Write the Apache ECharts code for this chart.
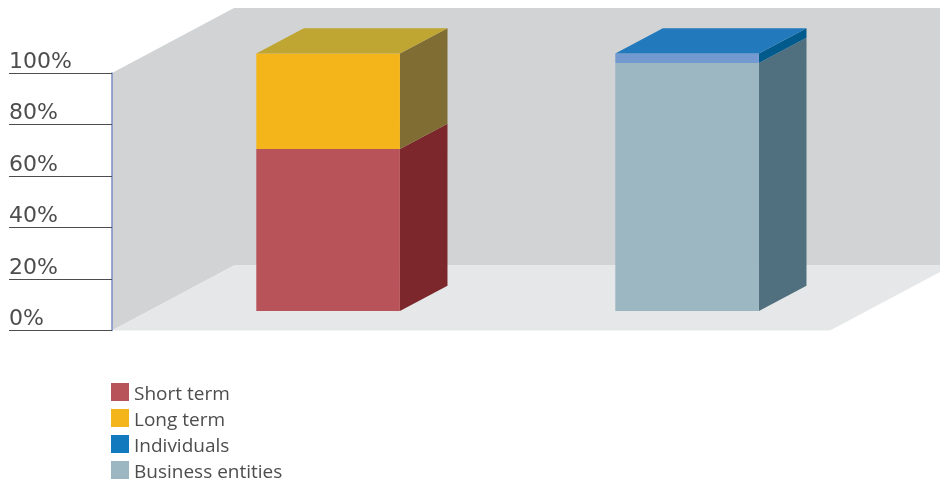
<!DOCTYPE html>
<html>
<head>
<meta charset="utf-8">
<style>html,body{margin:0;padding:0;background:#fff}#chart{width:940px;height:482px}</style>
<script src="https://cdn.jsdelivr.net/npm/echarts@6/dist/echarts.min.js"></script>
</head>
<body>
<div id="chart"></div>
<script>
// Composition of two groups, in percent
const categories = ['Term', 'Client type'];
const shortTerm = [62.9, null];
const longTerm = [37.1, null];
const individuals = [null, 3.7];
const businessEntities = [null, 96.3];
const tickValues = [0, 20, 40, 60, 80, 100];

// Oblique projection of the room and the columns
const ROOM_DX = 122, ROOM_DY = 65;
const COL_NEAR = 0.3, COL_DEPTH = 0.39, COL_WIDTH = 0.4;

const palette = {
  'Short term':       { legend: '#b8535a', front: '#b8535a', side: '#7c272b', top: '#b8535a' },
  'Long term':        { legend: '#f4b51b', front: '#f4b51b', side: '#806d33', top: '#bfa532' },
  'Individuals':      { legend: '#1379bf', front: '#7399d1', side: '#005a8c', top: '#2279bc' },
  'Business entities':{ legend: '#9cb6c2', front: '#9cb6c2', side: '#50707f', top: '#9cb6c2' }
};

function poly(points, fill) {
  return { type: 'polygon', shape: { points }, style: { fill }, silent: true };
}

// Back wall, side wall and floor, derived from the plot rectangle
function renderRoom(params) {
  const c = params.coordSys;
  const l = c.x, r = c.x + c.width, t = c.y, b = c.y + c.height;
  return {
    type: 'group',
    children: [
      poly([[l + ROOM_DX, t - ROOM_DY], [r + ROOM_DX, t - ROOM_DY], [r + ROOM_DX, b - ROOM_DY], [l + ROOM_DX, b - ROOM_DY]], '#d1d3d4'),
      poly([[l, t], [l + ROOM_DX, t - ROOM_DY], [l + ROOM_DX, b - ROOM_DY], [l, b]], '#d1d3d4'),
      poly([[l, b], [r, b], [r + ROOM_DX, b - ROOM_DY], [l + ROOM_DX, b - ROOM_DY]], '#e6e7e8')
    ]
  };
}

// One stacked segment: front face, right face and, on the top segment, a lid
function segmentRenderer(name, isTop) {
  const col = palette[name];
  return function (params, api) {
    const idx = api.value(0);
    if (isNaN(api.value(2))) return null;
    const low = api.coord([idx, api.value(1)]);
    const high = api.coord([idx, api.value(2)]);
    const w = api.size([1, 0])[0] * COL_WIDTH;
    const ox = ROOM_DX * COL_NEAR, oy = ROOM_DY * COL_NEAR;
    const dx = ROOM_DX * COL_DEPTH, dy = ROOM_DY * COL_DEPTH;
    const x0 = low[0] - w / 2 + ox, x1 = x0 + w;
    const y0 = low[1] - oy, y1 = high[1] - oy;
    const children = [
      poly([[x1, y0], [x1 + dx, y0 - dy], [x1 + dx, y1 - dy], [x1, y1]], col.side),
      poly([[x0, y0], [x1, y0], [x1, y1], [x0, y1]], col.front)
    ];
    if (isTop) {
      children.push(poly([[x0, y1], [x1, y1], [x1 + dx, y1 - dy], [x0 + dx, y1 - dy]], col.top));
    }
    return { type: 'group', children };
  };
}

function stacked(name, values, below, isTop) {
  return {
    name,
    type: 'custom',
    coordinateSystem: 'cartesian2d',
    clip: false,
    silent: true,
    itemStyle: { color: palette[name].legend },
    encode: { x: 0, y: 2 },
    renderItem: segmentRenderer(name, isTop),
    data: values.map((v, i) => [i, below ? (below[i] || 0) : 0, v == null ? NaN : (below ? (below[i] || 0) : 0) + v])
  };
}

const chart = echarts.init(document.getElementById('chart'), null, { renderer: 'canvas' });
chart.setOption({
  animation: false,
  backgroundColor: '#fff',
  grid: { left: 112, right: 110, top: 73, height: 257.5 },
  legend: {
    orient: 'vertical',
    left: 111,
    top: 383,
    height: 150,
    itemWidth: 18,
    itemHeight: 18,
    itemGap: 5,
    padding: 0,
    icon: 'rect',
    selectedMode: false,
    data: Object.keys(palette),
    formatter: name => '{t|' + name + '}',
    textStyle: {
      rich: {
        t: { fontFamily: 'Open Sans', fontSize: 19, color: '#4d4d4f', lineHeight: 24, verticalAlign: 'bottom' }
      }
    }
  },
  xAxis: {
    type: 'category',
    data: categories,
    axisLine: { show: false },
    axisTick: { show: false },
    axisLabel: { show: false },
    splitLine: { show: false }
  },
  yAxis: {
    type: 'value',
    min: 0,
    max: 100,
    interval: 20,
    axisLine: { show: true, lineStyle: { color: '#7b8cc4', width: 1.5 } },
    axisTick: { show: true, length: 103, lineStyle: { color: '#4d4d4f', width: 1 } },
    splitLine: { show: false },
    axisLabel: {
      margin: 103,
      align: 'left',
      verticalAlign: 'bottom',
      fontFamily: 'DejaVu Sans',
      fontSize: 22,
      color: '#4d4d4f',
      formatter: v => tickValues.includes(v) ? v + '%' : ''
    }
  },
  series: [
    { type: 'custom', name: 'room', silent: true, clip: false, z: 0, renderItem: renderRoom, data: [[0, 0]], encode: { x: 0, y: 1 } },
    stacked('Short term', shortTerm, null, false),
    stacked('Long term', longTerm, shortTerm, true),
    stacked('Business entities', businessEntities, null, false),
    stacked('Individuals', individuals, businessEntities, true)
  ]
});
</script>
</body>
</html>
